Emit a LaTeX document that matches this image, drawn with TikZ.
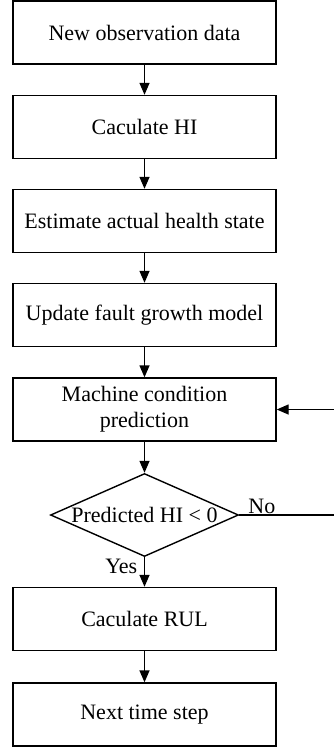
\documentclass[tikz,border=0pt]{standalone}
\usepackage{fontspec}
\setmainfont{Liberation Serif}
\usetikzlibrary{shapes.geometric,arrows.meta}
\begin{document}
\begin{tikzpicture}[x=1pt,y=1pt,
  stepbox/.style={draw,line width=1.4pt,minimum width=263pt,minimum height=63pt,inner sep=0pt,align=center,font=\fontsize{22}{26}\selectfont},
  decbox/.style={draw,line width=1.4pt,shape=diamond,aspect=2.27,inner sep=0pt,minimum width=188pt,minimum height=83pt,font=\fontsize{22}{26}\selectfont},
  lbl/.style={font=\fontsize{22}{26}\selectfont,inner sep=0pt},
  arr/.style={line width=1.4pt,-{Triangle[length=12pt,width=10pt]}},
  ln/.style={line width=1.4pt}]
\useasboundingbox (0,0) rectangle (334,-747);
\node[stepbox] (b1) at (144.5,-32.5) {New observation data};
\node[stepbox] (b2) at (144.5,-127) {Caculate HI};
\node[stepbox] (b3) at (144.5,-221) {Estimate actual health state};
\node[stepbox] (b4) at (144.5,-315) {Update fault growth model};
\node[stepbox] (b5) at (144.5,-409.5) {Machine condition\\prediction};
\node[decbox] (d) at (144.5,-515) {Predicted HI < 0};
\node[stepbox] (b6) at (144.5,-619) {Caculate RUL};
\node[stepbox] (b7) at (144.5,-714.5) {Next time step};
\coordinate (e1) at (334,-515);
\coordinate (e2) at (334,-409.5);
\draw[arr] (b1) -- (b2);
\draw[arr] (b2) -- (b3);
\draw[arr] (b3) -- (b4);
\draw[arr] (b4) -- (b5);
\draw[arr] (b5) -- (d);
\draw[arr] (d) -- (b6);
\draw[arr] (b6) -- (b7);
\draw[ln] (d.east) -- (e1);
\draw[arr] (e2) -- (b5.east);
\node[lbl,anchor=south west] (no) at ([xshift=9pt,yshift=1pt]d.east) {No};
\node[lbl,anchor=north east] (yes) at ([xshift=-7pt,yshift=-2pt]d.south) {Yes};
\end{tikzpicture}
\end{document}
